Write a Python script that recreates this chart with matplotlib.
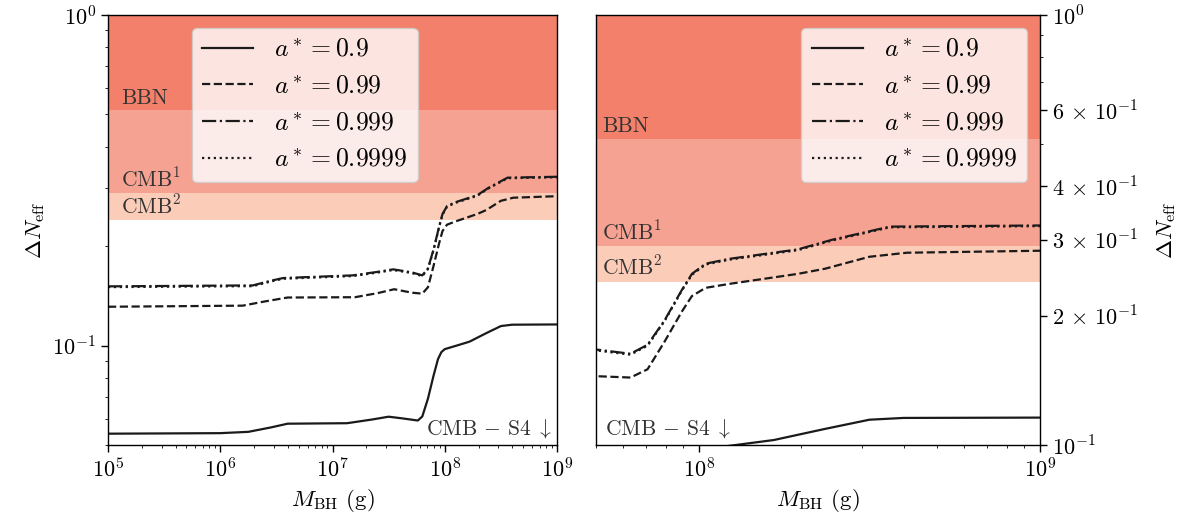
import numpy as np
import matplotlib
matplotlib.use("Agg")
import matplotlib.pyplot as plt
from matplotlib.ticker import FixedLocator, FixedFormatter, NullFormatter

plt.rcParams.update({
    "font.family": "serif",
    "font.serif": ["cmr10"],
    "mathtext.fontset": "cm",
    "axes.formatter.use_mathtext": True,
    "axes.linewidth": 1.0,
    "xtick.major.size": 5, "ytick.major.size": 5,
    "xtick.minor.size": 2.5, "ytick.minor.size": 2.5,
    "xtick.major.width": 1.0, "ytick.major.width": 1.0,
    "xtick.labelsize": 16, "ytick.labelsize": 16,
})

# log10 of black hole mass (g) and Delta N_eff for each spin
logm_09 = [5.0, 6.0, 6.25, 6.45, 6.6, 7.13, 7.35, 7.5, 7.62, 7.76, 7.8, 7.85, 7.9, 7.94,
           7.97, 8.0, 8.1, 8.22, 8.37, 8.5, 8.6, 9.0]
dn_09 = [0.0541, 0.0543, 0.0548, 0.0565, 0.058, 0.0582, 0.0597, 0.0609, 0.0602, 0.0593,
         0.061, 0.069, 0.081, 0.091, 0.0955, 0.0975, 0.0998, 0.1027, 0.109, 0.1145, 0.1156,
         0.1158]

logm_099 = [5.0, 6.2, 6.4, 6.6, 7.2, 7.4, 7.55, 7.706, 7.8, 7.85, 7.9, 7.95, 7.98, 8.02,
            8.09, 8.29, 8.37, 8.5, 8.61, 9.0]
dn_099 = [0.131, 0.132, 0.136, 0.1397, 0.140, 0.144, 0.148, 0.1445, 0.1435, 0.150, 0.174,
          0.204, 0.222, 0.232, 0.237, 0.250, 0.257, 0.274, 0.280, 0.283]

logm_0999 = [5.0, 6.29, 6.45, 6.56, 7.18, 7.4, 7.54, 7.706, 7.8, 7.85, 7.9, 7.95, 7.98,
             8.02, 8.09, 8.29, 8.39, 8.56, 9.0]
dn_0999 = [0.151, 0.152, 0.157, 0.160, 0.163, 0.167, 0.170, 0.1665, 0.163, 0.171, 0.195,
           0.229, 0.250, 0.264, 0.271, 0.285, 0.300, 0.322, 0.324]
dn_09999 = [0.1502, 0.1512, 0.1562, 0.1592, 0.1622, 0.1662, 0.1692, 0.1657, 0.1622, 0.1702,
            0.1942, 0.2282, 0.2488, 0.2628, 0.2698, 0.2838, 0.2988, 0.3208, 0.3228]

spin_labels = [r"$a^* = 0.9$", r"$a^* = 0.99$", r"$a^* = 0.999$", r"$a^* = 0.9999$"]
styles = ["-", "--", "-.", ":"]

# constraint bands (lower edge of excluded region)
band_names = ["BBN", r"CMB$^1$", r"CMB$^2$"]
band_lower = [0.515, 0.29, 0.24]
band_colors = ["#F2806A", "#F5A293", "#FBCCB8"]
s4_label = r"$\mathrm{CMB}\,-\,\mathrm{S4}\ \downarrow$"

# right panel y ticks
right_yticks = [0.1, 0.2, 0.3, 0.4, 0.6, 1.0]
right_yticklabels = [r"$10^{-1}$", r"$2\,\times\,10^{-1}$", r"$3\,\times\,10^{-1}$",
                     r"$4\,\times\,10^{-1}$", r"$6\,\times\,10^{-1}$", r"$10^{0}$"]
right_yminor = [0.5, 0.7, 0.8, 0.9]

series = [(logm_09, dn_09), (logm_099, dn_099), (logm_0999, dn_0999), (logm_0999, dn_09999)]

fig = plt.figure(figsize=(11.9, 5.27), dpi=100)
ax1 = fig.add_axes([108 / 1190, 82 / 527, 449 / 1190, 430 / 527])
ax2 = fig.add_axes([596 / 1190, 82 / 527, 444 / 1190, 430 / 527])

for ax, xlim, ylim in [(ax1, (1e5, 1e9), (0.05, 1.0)), (ax2, (5e7, 1e9), (0.1, 1.0))]:
    ax.set_xscale("log")
    ax.set_yscale("log")
    upper = [1.0] + band_lower[:-1]
    for lo, hi, c in zip(band_lower, upper, band_colors):
        ax.axhspan(lo, hi, color=c, lw=0, zorder=0)
    for (lm, dn), ls, lab in zip(series, styles, spin_labels):
        ax.plot(10 ** np.array(lm), dn, ls=ls, color="#1a1a1a", lw=1.6, label=lab)
    ax.set_xlim(*xlim)
    ax.set_ylim(*ylim)
    ax.set_xlabel(r"$M_{\rm BH}$ (g)", fontsize=16.5)

# band labels
tr1 = ax1.get_yaxis_transform()
tr2 = ax2.get_yaxis_transform()
for name, lo in zip(band_names, band_lower):
    ax1.text(0.029, lo * 1.018, name, transform=tr1, fontsize=15.5, color="#333333", va="bottom")
    ax2.text(0.013, lo * 1.014, name, transform=tr2, fontsize=15.5, color="#333333", va="bottom")
ax1.text(0.99, 0.012, s4_label, transform=ax1.transAxes, fontsize=15.5, color="#333333",
         ha="right", va="bottom")
ax2.text(0.02, 0.012, s4_label, transform=ax2.transAxes, fontsize=15.5, color="#333333",
         ha="left", va="bottom")

ax1.set_ylabel(r"$\Delta N_{\rm eff}$", fontsize=16.5)
ax2.yaxis.tick_right()
ax2.yaxis.set_label_position("right")
ax2.yaxis.set_major_locator(FixedLocator(right_yticks))
ax2.yaxis.set_major_formatter(FixedFormatter(right_yticklabels))
ax2.yaxis.set_minor_locator(FixedLocator(right_yminor))
ax2.yaxis.set_minor_formatter(NullFormatter())
ax2.set_ylabel(r"$\Delta N_{\rm eff}$", fontsize=16.5, labelpad=12)

ax1.legend(loc="upper left", bbox_to_anchor=(0.158, 1.0), fontsize=18.5)
ax2.legend(loc="upper right", fontsize=18.5)

fig.savefig("out.png", dpi=100)
